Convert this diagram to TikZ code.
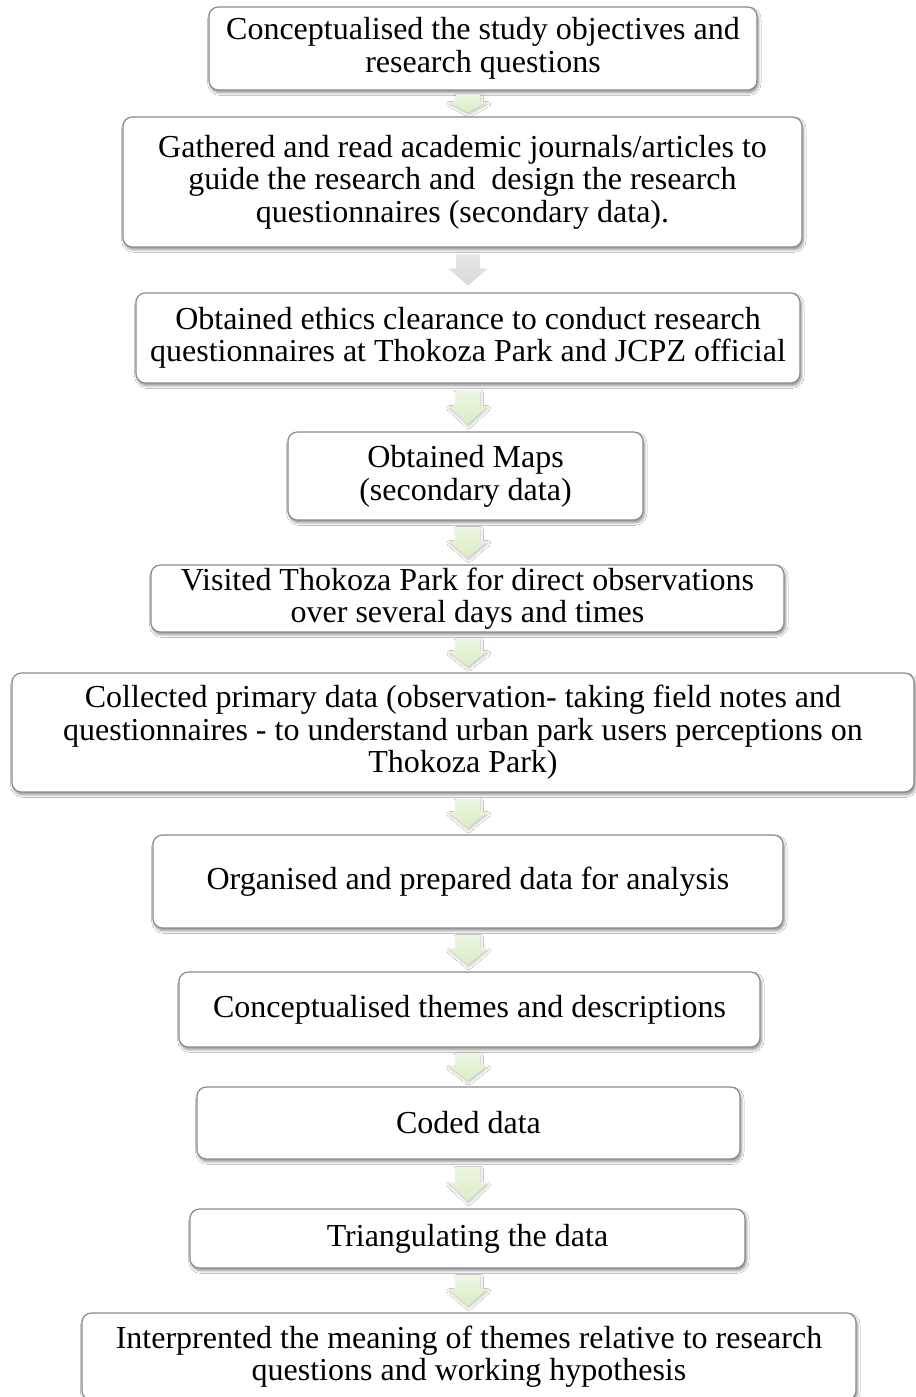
\documentclass[tikz,border=0pt]{standalone}
\usepackage{fontspec}
\setmainfont{Liberation Serif}
\usetikzlibrary{calc,shadows.blur}

\definecolor{boxline}{HTML}{8A8A8A}
\definecolor{arrowtop}{HTML}{EEF6E3}
\definecolor{arrowbot}{HTML}{DAECC3}
\definecolor{graytop}{HTML}{E6E6E6}
\definecolor{graybot}{HTML}{D9D9D9}

\tikzset{
  stepbox/.style={draw=boxline, line width=0.9pt, fill=white, rounded corners=7pt,
    align=center, inner sep=0pt,
    font=\fontsize{24pt}{24.4pt}\selectfont,
    blur shadow={shadow xshift=1pt, shadow yshift=-2pt, shadow blur steps=6,
      shadow blur radius=2pt, shadow opacity=45}},
  greenarrow/.style={top color=arrowtop, bottom color=arrowbot, draw=none,
    blur shadow={shadow xshift=0.5pt, shadow yshift=-1.5pt, shadow blur steps=5,
      shadow blur radius=2pt, shadow opacity=25}},
  grayarrow/.style={top color=graytop, bottom color=graybot, draw=none},
}

% a box given by its corners (in pixels, y downwards) and its text
\newcommand\stepnode[6]{%
  \node[stepbox, minimum width={(#4-#2)*0.75pt}, minimum height={(#5-#3)*0.75pt}]
    (#1) at ({(#2+#4)/2},{(#3+#5)/2}) {#6};}

% a block arrow in the gap between two boxes, on the common axis
\newcommand\flowarrow[3]{%
  \path[#3] let \p1=(#1.south), \p2=(#2.north), \p3=(axis),
      \n1={\y1-(\y1-\y2)*0.15}, \n2={\y2+(\y1-\y2)*0.15}, \n3={(\n1+\n2)/2+1pt}
    in (\x3-9pt,\n1) -- (\x3+9pt,\n1) -- (\x3+9pt,\n3) -- (\x3+14.5pt,\n3)
       -- (\x3,\n2) -- (\x3-14.5pt,\n3) -- (\x3-9pt,\n3) -- cycle;}

\begin{document}
\begin{tikzpicture}[x=0.75pt,y=-0.75pt]
  \fill[white] (0,0) rectangle (916,1397);
  \useasboundingbox (0,0) rectangle (916,1397);
  \coordinate (axis) at (468,0);

  \stepnode{s1}{209}{7}{757}{90}{Conceptualised the study objectives and\\research questions}
  \stepnode{s2}{123}{117}{802}{247}{Gathered and read academic journals/articles to\\guide the research and~ design the research\\questionnaires (secondary data).}
  \stepnode{s3}{136}{293}{800}{383}{Obtained ethics clearance to conduct research\\questionnaires at Thokoza Park and JCPZ official}
  \stepnode{s4}{288}{432}{643}{520}{\raisebox{-4pt}{\shortstack{Obtained Maps\\(secondary data)}}}
  \stepnode{s5}{151}{565}{784}{632}{Visited Thokoza Park for direct observations\\over several days and times}
  \stepnode{s6}{12}{673}{914}{792}{Collected primary data (observation- taking field notes and\\questionnaires - to understand urban park users perceptions on\\Thokoza Park)}
  \stepnode{s7}{153}{835}{783}{928}{Organised and prepared data for analysis}
  \stepnode{s8}{179}{972}{760}{1047}{Conceptualised themes and descriptions}
  \stepnode{s9}{197}{1087}{740}{1159}{Coded data}
  \stepnode{s10}{190}{1209}{745}{1268}{Triangulating the data}
  \stepnode{s11}{82}{1313}{856}{1400}{Interprented the meaning of themes relative to research\\questions and working hypothesis}

  \flowarrow{s1}{s2}{greenarrow}
  \flowarrow{s2}{s3}{grayarrow}
  \flowarrow{s3}{s4}{greenarrow}
  \flowarrow{s4}{s5}{greenarrow}
  \flowarrow{s5}{s6}{greenarrow}
  \flowarrow{s6}{s7}{greenarrow}
  \flowarrow{s7}{s8}{greenarrow}
  \flowarrow{s8}{s9}{greenarrow}
  \flowarrow{s9}{s10}{greenarrow}
  \flowarrow{s10}{s11}{greenarrow}
\end{tikzpicture}
\end{document}
